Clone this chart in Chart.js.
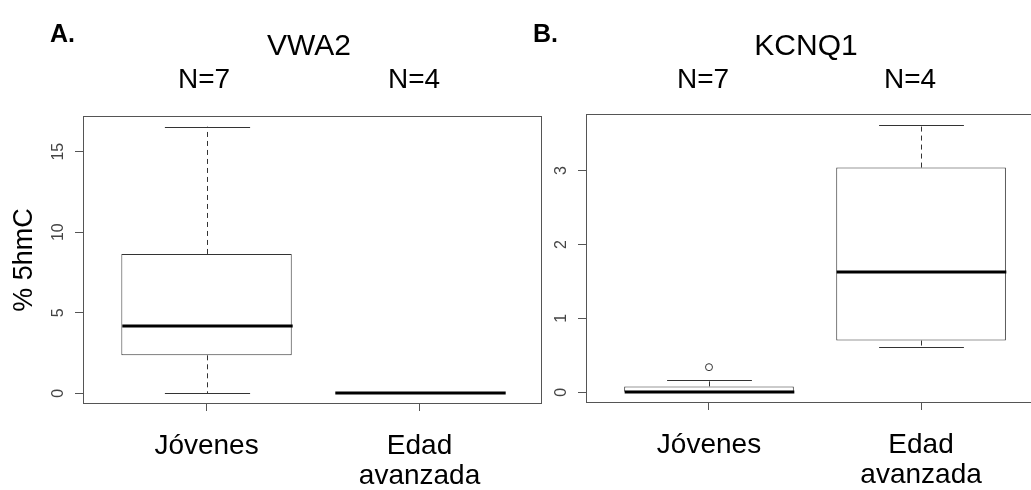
<!DOCTYPE html>
<html><head><meta charset="utf-8">
<script src="https://cdn.jsdelivr.net/npm/chart.js@4.4.1/dist/chart.umd.min.js"></script>
<style>
html,body{margin:0;padding:0;background:#fff;overflow:hidden;width:1031px;height:490px;}
canvas{position:absolute;top:0;}
#cA{left:0;}
#cB{left:520px;}
</style></head><body>
<canvas id="cA" width="545" height="490"></canvas>
<canvas id="cB" width="540" height="490"></canvas>
<script>
// ---- data ----
const categories = ['Jóvenes', ['Edad', 'avanzada']];
const groupN = ['N=7', 'N=4'];
const yTicksA = [0, 5, 10, 15];
const yTicksB = [0, 1, 2, 3];

// VWA2 (%5hmC)
const vwa2Min    = [0.00, 0.00];
const vwa2Q1     = [2.36, 0.00];
const vwa2Median = [4.20, 0.00];
const vwa2Q3     = [8.65, 0.00];
const vwa2Max    = [16.55, 0.00];
const vwa2Outliers = [[], []];

// KCNQ1 (%5hmC)
const kcnq1Min    = [0.00, 0.61];
const kcnq1Q1     = [0.00, 0.70];
const kcnq1Median = [0.00, 1.63];
const kcnq1Q3     = [0.08, 3.04];
const kcnq1Max    = [0.16, 3.62];
const kcnq1Outliers = [[0.34], []];

const FONT = "'Liberation Sans', Arial, Helvetica, sans-serif";
const INK = '#333';
const FRAME = '#555';

const boxExtras = {
  id: 'boxExtras',
  beforeDatasetsDraw(chart, args, o) {
    const {ctx, chartArea: a} = chart;
    ctx.save();
    ctx.strokeStyle = FRAME; ctx.lineWidth = 1;
    ctx.strokeRect(Math.round(a.left) + 0.5, Math.round(a.top) + 0.5,
                   Math.round(a.right - a.left) - 1, Math.round(a.bottom - a.top) - 1);
    ctx.restore();
  },
  afterDatasetsDraw(chart, args, o) {
    const {ctx} = chart; const xs = chart.scales.x, ys = chart.scales.y;
    const s = o.stats;
    ctx.save();
    for (let i = 0; i < s.median.length; i++) {
      const cx = Math.round(xs.getPixelForValue(i + 1)) + 0.5;
      const hb = xs.getPixelForValue(i + 1 + 0.4) - xs.getPixelForValue(i + 1);
      const hc = xs.getPixelForValue(i + 1 + 0.2) - xs.getPixelForValue(i + 1);
      const pMin = ys.getPixelForValue(s.min[i]), pQ1 = ys.getPixelForValue(s.q1[i]);
      const pQ3 = ys.getPixelForValue(s.q3[i]), pMax = ys.getPixelForValue(s.max[i]);
      const pMed = ys.getPixelForValue(s.median[i]);
      ctx.strokeStyle = INK; ctx.lineWidth = 1;
      // whiskers
      ctx.setLineDash([5, 4]);
      ctx.beginPath();
      if (pMax < pQ3) { ctx.moveTo(cx, pQ3); ctx.lineTo(cx, pMax); }
      if (pMin > pQ1) { ctx.moveTo(cx, pQ1); ctx.lineTo(cx, pMin); }
      ctx.stroke();
      ctx.setLineDash([]);
      // caps
      ctx.beginPath();
      [pMax, pMin].forEach(p => { const yy = Math.round(p) + 0.5; ctx.moveTo(cx - hc, yy); ctx.lineTo(cx + hc, yy); });
      ctx.stroke();
      // median
      ctx.strokeStyle = '#000'; ctx.lineWidth = 3;
      ctx.beginPath(); ctx.moveTo(cx - hb, Math.round(pMed)); ctx.lineTo(cx + hb, Math.round(pMed)); ctx.stroke();
    }
    ctx.restore();
  },
  afterDraw(chart, args, o) {
    const {ctx, chartArea: a} = chart; const ys = chart.scales.y;
    ctx.save();
    // rotated y tick labels
    ctx.fillStyle = '#444';
    ctx.font = '16px ' + FONT;
    ctx.textAlign = 'center'; ctx.textBaseline = 'middle';
    ys.ticks.forEach(t => {
      ctx.save();
      ctx.translate(a.left - 24, ys.getPixelForValue(t.value));
      ctx.rotate(-Math.PI / 2);
      ctx.fillText(String(t.value), 0, 0);
      ctx.restore();
    });
    // titles / annotations
    ctx.fillStyle = '#000'; ctx.textBaseline = 'alphabetic';
    o.texts.forEach(t => {
      ctx.font = (t.bold ? 'bold ' : '') + t.size + 'px ' + FONT;
      ctx.textAlign = t.align || 'center';
      ctx.fillText(t.text, t.x, t.y);
    });
    ctx.restore();
  }
};

function makeChart(id, s, outliers, yTicks, texts, layout, showYTitle) {
  const rangeMin = Math.min(...s.min, ...outliers.flat());
  const rangeMax = Math.max(...s.max, ...outliers.flat());
  const ext = 0.04 * (rangeMax - rangeMin);
  const boxData = s.q1.map((q, i) => ({x: i + 1, y: [q, s.q3[i]]}));
  const outData = [];
  outliers.forEach((arr, i) => arr.forEach(v => outData.push({x: i + 1, y: v})));
  return new Chart(document.getElementById(id), {
    type: 'bar',
    data: {
      datasets: [
        {type: 'bar', data: boxData, backgroundColor: '#fff', borderColor: INK, borderWidth: 1,
         borderSkipped: false, categoryPercentage: 0.8, barPercentage: 1.0},
        {type: 'scatter', data: outData, pointRadius: 3.5, pointBorderWidth: 1,
         pointBackgroundColor: '#fff', pointBorderColor: INK}
      ]
    },
    options: {
      responsive: false, animation: false,
      layout: {padding: {top: layout.top, left: 0, right: layout.right, bottom: 0}},
      plugins: {legend: {display: false}, tooltip: {enabled: false},
        boxExtras: {stats: s, texts: texts}},
      scales: {
        x: {
          type: 'linear', min: 0.42, max: 2.575, offset: false,
          afterBuildTicks: sc => { sc.ticks = categories.map((c, i) => ({value: i + 1})); },
          afterFit: sc => { sc.height = layout.xh; },
          grid: {display: true, offset: false, drawOnChartArea: false, drawTicks: true, tickLength: 7, color: FRAME},
          border: {display: false},
          ticks: {
            callback: v => categories[Math.round(v) - 1],
            color: '#000', padding: 20, maxRotation: 0, autoSkip: false,
            font: {family: FONT, size: 28, lineHeight: 1.07}
          }
        },
        y: {
          type: 'linear', min: rangeMin - ext, max: rangeMax + ext,
          afterBuildTicks: sc => { sc.ticks = yTicks.map(v => ({value: v})); },
          afterFit: sc => { sc.width = layout.yw; },
          grid: {display: true, drawOnChartArea: false, drawTicks: true, tickLength: 8, color: FRAME},
          border: {display: false},
          ticks: {display: false},
          title: {display: showYTitle, text: '% 5hmC', color: '#000',
                  font: {family: FONT, size: 27}, padding: {top: 8, bottom: 0}}
        }
      }
    },
    plugins: [boxExtras]
  });
}

makeChart('cA',
  {min: vwa2Min, q1: vwa2Q1, median: vwa2Median, q3: vwa2Q3, max: vwa2Max},
  vwa2Outliers, yTicksA,
  [{text: 'A.', x: 50, y: 42, size: 25, bold: true, align: 'left'},
   {text: 'VWA2', x: 309, y: 55, size: 30},
   {text: groupN[0], x: 204, y: 88, size: 28},
   {text: groupN[1], x: 414, y: 88, size: 28}],
  {top: 116, right: 3, xh: 86, yw: 83}, true);

makeChart('cB',
  {min: kcnq1Min, q1: kcnq1Q1, median: kcnq1Median, q3: kcnq1Q3, max: kcnq1Max},
  kcnq1Outliers, yTicksB,
  [{text: 'B.', x: 13, y: 42, size: 25, bold: true, align: 'left'},
   {text: 'KCNQ1', x: 286, y: 55, size: 30},
   {text: groupN[0], x: 183, y: 88, size: 28},
   {text: groupN[1], x: 390, y: 88, size: 28}],
  {top: 114, right: 17, xh: 87, yw: 66}, false);
</script>
</body></html>
